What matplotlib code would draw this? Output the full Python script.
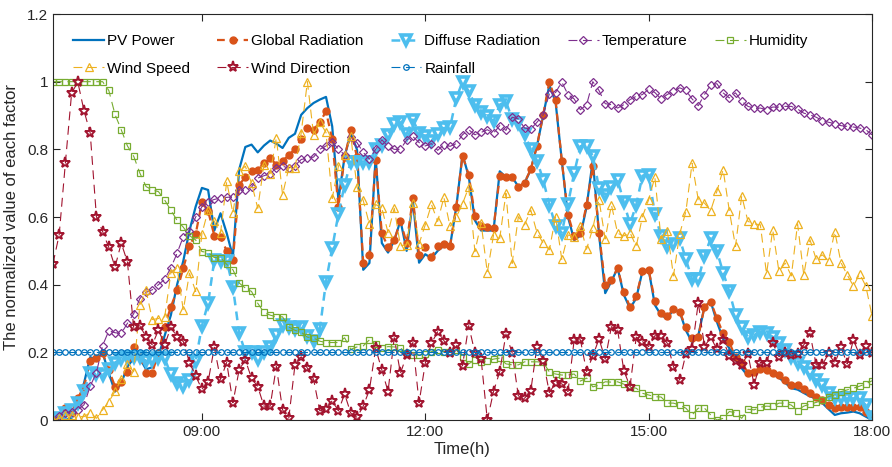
import matplotlib
matplotlib.use('Agg')
import matplotlib.pyplot as plt
import matplotlib.dates as mdates
import pandas as pd

# 5-minute samples from 07:00 to 18:00, all factors normalized to [0, 1]
times = pd.date_range('2019-06-01 07:00', '2019-06-01 18:00', freq='5min')

pv_power = [
    0.0, 0.0, 0.0, 0.006, 0.05, 0.109, 0.186, 0.178, 0.199, 0.138,
    0.084, 0.109, 0.158, 0.182, 0.182, 0.15, 0.156, 0.189, 0.25, 0.31,
    0.40, 0.47, 0.56, 0.631, 0.686, 0.68, 0.56, 0.611, 0.552, 0.483,
    0.74, 0.807, 0.814, 0.791, 0.811, 0.826, 0.817, 0.804, 0.834, 0.846,
    0.902, 0.922, 0.937, 0.947, 0.955, 0.868, 0.651, 0.779, 0.848, 0.799,
    0.444, 0.464, 0.777, 0.523, 0.495, 0.53, 0.59, 0.50, 0.65, 0.465,
    0.49, 0.478, 0.50, 0.515, 0.515, 0.63, 0.785, 0.72, 0.59, 0.56,
    0.56, 0.56, 0.735, 0.718, 0.718, 0.69, 0.70, 0.74, 0.81, 0.90,
    0.99, 0.94, 0.767, 0.60, 0.532, 0.545, 0.63, 0.769, 0.55, 0.375,
    0.41, 0.449, 0.37, 0.33, 0.36, 0.44, 0.445, 0.34, 0.31, 0.30,
    0.327, 0.32, 0.265, 0.23, 0.25, 0.335, 0.35, 0.29, 0.24, 0.212,
    0.178, 0.153, 0.13, 0.143, 0.148, 0.145, 0.135, 0.125, 0.11, 0.094,
    0.09, 0.08, 0.07, 0.064, 0.05, 0.032, 0.015, 0.02, 0.022, 0.025,
    0.02, 0.01, 0.0]

global_rad = [
    0.0, 0.01, 0.035, 0.022, 0.064, 0.099, 0.173, 0.182, 0.197, 0.148,
    0.099, 0.113, 0.143, 0.215, 0.19, 0.14, 0.14, 0.199, 0.276, 0.335,
    0.383, 0.449, 0.515, 0.55, 0.643, 0.618, 0.545, 0.54, 0.50, 0.473,
    0.695, 0.718, 0.735, 0.74, 0.759, 0.774, 0.755, 0.765, 0.784, 0.80,
    0.83, 0.863, 0.858, 0.88, 0.912, 0.83, 0.63, 0.777, 0.856, 0.777,
    0.465, 0.488, 0.769, 0.552, 0.511, 0.533, 0.587, 0.523, 0.656, 0.488,
    0.511, 0.483, 0.513, 0.521, 0.515, 0.63, 0.781, 0.725, 0.604, 0.572,
    0.57, 0.567, 0.72, 0.718, 0.718, 0.688, 0.702, 0.741, 0.81, 0.902,
    1.0, 0.945, 0.767, 0.607, 0.544, 0.552, 0.636, 0.75, 0.552, 0.399,
    0.414, 0.449, 0.377, 0.335, 0.367, 0.439, 0.444, 0.353, 0.316, 0.308,
    0.327, 0.32, 0.274, 0.242, 0.246, 0.335, 0.35, 0.301, 0.256, 0.23,
    0.185, 0.17, 0.14, 0.143, 0.15, 0.148, 0.14, 0.133, 0.118, 0.104,
    0.104, 0.091, 0.079, 0.069, 0.059, 0.044, 0.035, 0.038, 0.038, 0.038,
    0.038, 0.025, 0.01]

diffuse_rad = [
    0.0, 0.005, 0.02, 0.03, 0.05, 0.087, 0.138, 0.136, 0.133, 0.15,
    0.17, 0.181, 0.185, 0.186, 0.187, 0.175, 0.176, 0.183, 0.182, 0.135,
    0.11, 0.102, 0.118, 0.175, 0.278, 0.346, 0.472, 0.471, 0.471, 0.393,
    0.257, 0.2, 0.2, 0.181, 0.2, 0.217, 0.25, 0.281, 0.274, 0.268,
    0.276, 0.249, 0.235, 0.268, 0.409, 0.508, 0.609, 0.695, 0.764, 0.764,
    0.764, 0.764, 0.80, 0.814, 0.843, 0.876, 0.88, 0.846, 0.888, 0.848,
    0.838, 0.826, 0.846, 0.863, 0.866, 0.951, 1.0, 0.972, 0.932, 0.909,
    0.898, 0.883, 0.932, 0.942, 0.889, 0.877, 0.846, 0.80, 0.767, 0.71,
    0.636, 0.574, 0.554, 0.639, 0.73, 0.809, 0.811, 0.781, 0.686, 0.666,
    0.688, 0.71, 0.643, 0.58, 0.636, 0.722, 0.725, 0.609, 0.544, 0.515,
    0.521, 0.537, 0.475, 0.416, 0.416, 0.485, 0.537, 0.50, 0.436, 0.38,
    0.311, 0.276, 0.246, 0.251, 0.261, 0.256, 0.246, 0.227, 0.207, 0.185,
    0.17, 0.156, 0.138, 0.118, 0.104, 0.079, 0.064, 0.064, 0.064, 0.064,
    0.064, 0.044, 0.01]

temperature = [
    0.0, 0.012, 0.02, 0.025, 0.03, 0.045, 0.1, 0.14, 0.22, 0.264,
    0.258, 0.256, 0.286, 0.314, 0.359, 0.377, 0.385, 0.40, 0.416, 0.45,
    0.493, 0.542, 0.56, 0.60, 0.63, 0.645, 0.652, 0.656, 0.658, 0.66,
    0.68, 0.68, 0.688, 0.715, 0.722, 0.728, 0.745, 0.75, 0.745, 0.752,
    0.77, 0.774, 0.777, 0.80, 0.81, 0.823, 0.80, 0.784, 0.836, 0.82,
    0.791, 0.771, 0.80, 0.828, 0.809, 0.80, 0.80, 0.828, 0.838, 0.82,
    0.81, 0.817, 0.797, 0.814, 0.809, 0.817, 0.843, 0.858, 0.843, 0.85,
    0.858, 0.848, 0.87, 0.856, 0.895, 0.89, 0.863, 0.86, 0.88, 0.902,
    0.964, 0.968, 0.999, 0.962, 0.949, 0.917, 0.932, 1.0, 0.974, 0.935,
    0.932, 0.922, 0.932, 0.947, 0.957, 0.962, 0.978, 0.968, 0.949, 0.962,
    0.972, 0.982, 0.974, 0.949, 0.929, 0.962, 0.991, 0.994, 0.967, 0.952,
    0.967, 0.942, 0.927, 0.922, 0.922, 0.917, 0.925, 0.925, 0.927, 0.927,
    0.919, 0.907, 0.902, 0.895, 0.885, 0.88, 0.876, 0.87, 0.868, 0.866,
    0.863, 0.858, 0.843]

humidity = [
    1.0, 1.0, 1.0, 1.0, 1.0, 1.0, 1.0, 1.0, 1.0, 0.974,
    0.903, 0.858, 0.81, 0.78, 0.73, 0.69, 0.68, 0.675, 0.65, 0.62,
    0.59, 0.57, 0.545, 0.532, 0.498, 0.495, 0.48, 0.48, 0.46, 0.444,
    0.405, 0.39, 0.38, 0.345, 0.318, 0.31, 0.305, 0.305, 0.275, 0.265,
    0.26, 0.245, 0.242, 0.233, 0.229, 0.229, 0.229, 0.243, 0.209, 0.216,
    0.219, 0.237, 0.225, 0.213, 0.217, 0.216, 0.213, 0.198, 0.192, 0.192,
    0.195, 0.202, 0.207, 0.202, 0.202, 0.207, 0.187, 0.166, 0.178, 0.172,
    0.175, 0.18, 0.183, 0.166, 0.163, 0.163, 0.172, 0.172, 0.172, 0.171,
    0.142, 0.136, 0.133, 0.133, 0.136, 0.115, 0.124, 0.098, 0.103, 0.113,
    0.112, 0.113, 0.106, 0.097, 0.094, 0.079, 0.074, 0.069, 0.068, 0.05,
    0.05, 0.044, 0.035, 0.015, 0.035, 0.035, 0.015, 0.0, 0.005, 0.025,
    0.022, 0.005, 0.032, 0.03, 0.038, 0.041, 0.04, 0.05, 0.05, 0.044,
    0.028, 0.041, 0.047, 0.052, 0.059, 0.069, 0.074, 0.084, 0.089, 0.094,
    0.10, 0.107, 0.116]

wind_speed = [
    0.0, 0.005, 0.015, 0.015, 0.01, 0.01, 0.022, 0.005, 0.03, 0.054,
    0.085, 0.12, 0.165, 0.143, 0.34, 0.383, 0.297, 0.30, 0.304, 0.435,
    0.45, 0.325, 0.434, 0.38, 0.55, 0.62, 0.587, 0.552, 0.705, 0.611,
    0.735, 0.75, 0.70, 0.626, 0.754, 0.728, 0.834, 0.666, 0.745, 0.745,
    0.848, 1.0, 0.843, 0.88, 0.85, 0.655, 0.75, 0.784, 0.838, 0.688,
    0.649, 0.578, 0.637, 0.626, 0.554, 0.626, 0.515, 0.518, 0.64, 0.521,
    0.577, 0.637, 0.587, 0.658, 0.572, 0.60, 0.639, 0.688, 0.498, 0.582,
    0.436, 0.547, 0.537, 0.67, 0.463, 0.601, 0.577, 0.621, 0.554, 0.523,
    0.503, 0.601, 0.475, 0.547, 0.542, 0.572, 0.505, 0.567, 0.651, 0.535,
    0.636, 0.552, 0.544, 0.554, 0.513, 0.601, 0.651, 0.718, 0.535, 0.56,
    0.426, 0.55, 0.616, 0.759, 0.651, 0.641, 0.619, 0.676, 0.74, 0.619,
    0.513, 0.663, 0.587, 0.58, 0.577, 0.432, 0.562, 0.439, 0.464, 0.426,
    0.58, 0.429, 0.533, 0.475, 0.488, 0.471, 0.557, 0.465, 0.429, 0.396,
    0.432, 0.396, 0.308]

wind_direction = [
    0.462, 0.548, 0.76, 0.966, 0.999, 0.914, 0.848, 0.601, 0.557, 0.51,
    0.452, 0.523, 0.467, 0.274, 0.278, 0.246, 0.222, 0.266, 0.222, 0.274,
    0.246, 0.232, 0.17, 0.13, 0.091, 0.113, 0.215, 0.12, 0.17, 0.051,
    0.148, 0.178, 0.123, 0.099, 0.041, 0.041, 0.158, 0.03, 0.005, 0.163,
    0.187, 0.153, 0.12, 0.027, 0.032, 0.057, 0.027, 0.077, 0.02, 0.008,
    0.041, 0.089, 0.212, 0.148, 0.084, 0.243, 0.138, 0.192, 0.229, 0.051,
    0.168, 0.227, 0.261, 0.235, 0.199, 0.222, 0.16, 0.279, 0.199, 0.18,
    0.0, 0.084, 0.143, 0.254, 0.199, 0.071, 0.064, 0.086, 0.217, 0.175,
    0.081, 0.11, 0.107, 0.084, 0.237, 0.237, 0.143, 0.189, 0.24, 0.18,
    0.276, 0.266, 0.146, 0.099, 0.245, 0.232, 0.217, 0.249, 0.249, 0.227,
    0.158, 0.118, 0.195, 0.209, 0.347, 0.217, 0.245, 0.209, 0.237, 0.189,
    0.175, 0.163, 0.195, 0.104, 0.17, 0.17, 0.227, 0.187, 0.199, 0.192,
    0.195, 0.222, 0.256, 0.163, 0.163, 0.197, 0.168, 0.215, 0.166, 0.237,
    0.192, 0.219, 0.197]

rainfall = [0.2] * len(times)

x_ticks = ['09:00', '12:00', '15:00', '18:00']
y_ticks = [0, 0.2, 0.4, 0.6, 0.8, 1.0, 1.2]

plt.rcParams['font.family'] = ['Liberation Sans', 'DejaVu Sans']

fig = plt.figure(figsize=(8.92, 4.67), dpi=100)
ax = fig.add_axes([0.0594, 0.1006, 0.9182, 0.8694])

thin = (0, (8, 5))
thick = (0, (3.5, 2.5))

ax.plot(times, pv_power, color='#0072BD', lw=1.6, label='PV Power')
ax.plot(times, global_rad, color='#D95319', lw=1.6, ls=thick, marker='o',
        ms=5, label='Global Radiation')
ax.plot(times, diffuse_rad, color='#4DBEEE', lw=1.8, ls=thick, marker='v',
        ms=7.5, mfc='none', mew=2.6, label='Diffuse Radiation')
ax.plot(times, temperature, color='#7E2F8E', lw=0.8, ls=thin, marker='D',
        ms=4.5, mfc='none', mew=0.9, label='Temperature')
ax.plot(times, humidity, color='#77AC30', lw=0.8, ls=thin, marker='s',
        ms=4, mfc='none', mew=0.9, label='Humidity')
ax.plot(times, wind_speed, color='#EDB120', lw=0.8, ls=thin, marker='^',
        ms=6, mfc='none', mew=0.9, label='Wind Speed')
ax.plot(times, wind_direction, color='#A2142F', lw=0.8, ls=thin, marker='*',
        ms=8, mfc='none', mew=1.4, label='Wind Direction')
ax.plot(times, rainfall, color='#0072BD', lw=0.8, ls=thin, marker='o',
        ms=4, mfc='none', mew=0.9, label='Rainfall')

ax.set_xlim(times[0], times[-1])
ax.set_ylim(0, 1.2)
ax.set_xticks(pd.to_datetime(['2019-06-01 ' + t for t in x_ticks]))
ax.xaxis.set_major_formatter(mdates.DateFormatter('%H:%M'))
ax.set_yticks(y_ticks)
ax.set_yticklabels(['0', '0.2', '0.4', '0.6', '0.8', '1', '1.2'])
ax.tick_params(direction='in', length=5, width=0.8, top=True, right=True,
               labelsize=11, colors='#262626')
for s in ax.spines.values():
    s.set_linewidth(0.8)
    s.set_color('#262626')

ax.set_xlabel('Time(h)', fontsize=12, color='#262626', labelpad=2)
ax.set_ylabel('The normalized value of each factor', fontsize=12,
              color='#262626', labelpad=6)

# legend: 5 columns, filled row-wise
h, l = ax.get_legend_handles_labels()
order = [0, 5, 1, 6, 2, 7, 3, 4]
ax.legend([h[i] for i in order], [l[i] for i in order], ncol=5,
          loc='upper left', bbox_to_anchor=(0.008, 0.985), frameon=False,
          fontsize=11, handlelength=2.0, handletextpad=0.2,
          columnspacing=1.8, labelspacing=0.9)

fig.savefig('out.png', dpi=100)
